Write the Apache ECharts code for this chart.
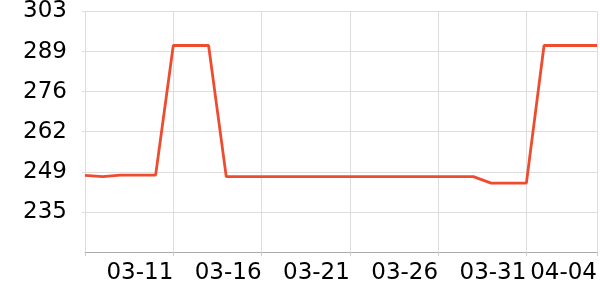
<!DOCTYPE html>
<html>
<head>
<meta charset="utf-8">
<script src="https://cdn.jsdelivr.net/npm/echarts@6/dist/echarts.min.js"></script>
<style>html,body{margin:0;padding:0;background:#fff}#c{width:600px;height:300px}</style>
</head>
<body>
<div id="c"></div>
<script>
const categories = ['03-06','03-07','03-08','03-09','03-10','03-11','03-12','03-13','03-14','03-15',
  '03-16','03-17','03-18','03-19','03-20','03-21','03-22','03-23','03-24','03-25',
  '03-26','03-27','03-28','03-29','03-30','03-31','04-01','04-02','04-03','04-04'];
const values = [247.6,247.2,247.7,247.7,247.7,291.5,291.5,291.5,247.2,247.2,
  247.2,247.2,247.2,247.2,247.2,247.2,247.2,247.2,247.2,247.2,
  247.2,247.2,247.2,245.0,245.0,245.0,291.5,291.5,291.5,291.5];
const xTickLabels = ['03-11','03-16','03-21','03-26','03-31','04-04'];
const yMin = 221.7, yMax = 303, yInterval = 13.55;

const chart = echarts.init(document.getElementById('c'), null, {renderer: 'canvas'});
const font = 'DejaVu Sans';
chart.setOption({
  animation: false,
  grid: {left: 85, right: 0, top: 10, bottom: 48, containLabel: false},
  xAxis: {
    type: 'category',
    data: categories,
    boundaryGap: false,
    axisLine: {lineStyle: {color: '#aaaaaa', width: 1}},
    axisTick: {length: 4, lineStyle: {color: '#cccccc'},
      interval: (i, v) => i === 0 || xTickLabels.includes(v)},
    splitLine: {show: true, lineStyle: {color: '#dddddd'},
      interval: (i, v) => i === 0 || xTickLabels.includes(v)},
    axisLabel: {
      interval: (i, v) => xTickLabels.includes(v),
      align: 'right', color: '#000', fontFamily: font, fontSize: 23, margin: 10
    }
  },
  yAxis: {
    type: 'value',
    min: yMin, max: yMax, interval: yInterval,
    axisLine: {show: false},
    axisTick: {show: true, length: 3, lineStyle: {color: '#dddddd'}},
    splitLine: {lineStyle: {color: '#dddddd'}},
    axisLabel: {showMinLabel: false, color: '#000', fontFamily: font, fontSize: 23, margin: 18,
      formatter: v => String(Math.round(v))}
  },
  series: [{
    type: 'line', data: values, symbol: 'none',
    lineStyle: {color: '#ef4b2f', width: 2.8}
  }]
});
</script>
</body>
</html>
